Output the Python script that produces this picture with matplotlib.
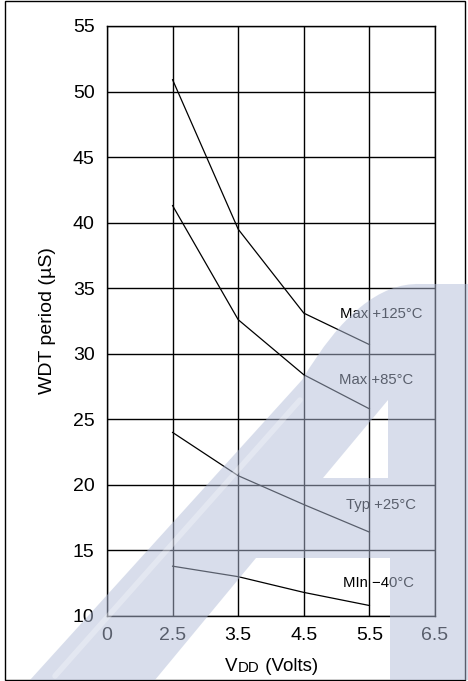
import numpy as np
import matplotlib
matplotlib.use("Agg")
import matplotlib.pyplot as plt
from matplotlib.path import Path
from matplotlib.patches import PathPatch, Rectangle
from matplotlib.transforms import Affine2D
from matplotlib.lines import Line2D

plt.rcParams['font.family'] = ['Liberation Sans', 'DejaVu Sans']

# ---- data ----
x_tick_labels = ["0", "2.5", "3.5", "4.5", "5.5", "6.5"]
vdd = ["2.5", "3.5", "4.5", "5.5"]
max_125 = [50.9, 39.5, 33.1, 30.7]
max_85 = [41.3, 32.6, 28.4, 25.8]
typ_25 = [24.0, 20.7, 18.5, 16.4]
min_m40 = [13.8, 13.0, 11.8, 10.8]
series = [max_125, max_85, typ_25, min_m40]
series_labels = ["Max +125°C", "Max +85°C", "Typ +25°C", "MIn \u221240°C"]
label_pos = [(3.55, 33.0), (3.53, 28.0), (3.64, 18.5), (3.6, 12.5)]
y_ticks = [10, 15, 20, 25, 30, 35, 40, 45, 50, 55]

W, H = 468, 681
fig = plt.figure(figsize=(W / 100, H / 100), dpi=100)
ax = fig.add_axes([107 / W, 1 - 616 / H, (435 - 107) / W, (616 - 26) / H])

xpos = [x_tick_labels.index(v) for v in vdd]
for s in series:
    ax.plot(xpos, s, color='black', lw=0.9, zorder=3)

for (lx, ly), t in zip(label_pos, series_labels):
    ax.text(lx, ly, t, fontsize=10.7, ha='left', va='center', color='black', zorder=4)

ax.set_xlim(0, 5)
ax.set_ylim(10, 55)
ax.set_xticks(range(len(x_tick_labels)))
ax.set_xticklabels(x_tick_labels)
ax.set_yticks(y_ticks)
ax.tick_params(axis='both', length=0, labelsize=14, colors='black')
ax.tick_params(axis='y', pad=9)
ax.tick_params(axis='x', pad=8)
ax.grid(True, color='black', lw=1.0)
ax.set_axisbelow(True)
for sp in ax.spines.values():
    sp.set_color('black')
    sp.set_linewidth(1.0)

ax.set_ylabel("WDT period (µS)", fontsize=14, labelpad=12)

# x label "VDD (Volts)" with small-caps DD
t1 = fig.text(225 / W, 1 - 671 / H, "V", fontsize=13.5, ha='left', va='baseline')
a2 = ax.annotate("DD", xy=(1, 0), xycoords=t1, xytext=(0.5, 0),
                 textcoords='offset points', fontsize=10.8, ha='left', va='bottom')
a3 = ax.annotate(" (Volts)", xy=(1, 0), xycoords=a2, xytext=(0, 0),
                 textcoords='offset points', fontsize=13.5, ha='left', va='bottom')

# pixel transform (y down) for decoration
pix = Affine2D().scale(1 / W, -1 / H).translate(0, 1) + fig.transFigure

# outer border
fig.patches.append(Rectangle((5, 1), 460, 679, transform=pix, fill=False,
                             edgecolor='black', lw=1.0, zorder=2))

# watermark "A"
verts = [(30, 680), (302, 380), (360, 282), (420, 284), (468, 284), (468, 680),
         (390, 680), (390, 558), (256, 558), (155, 680), (30, 680),
         (323, 478), (388, 478), (388, 400), (323, 478)]
codes = [Path.MOVETO, Path.LINETO, Path.CURVE3, Path.CURVE3, Path.LINETO, Path.LINETO,
         Path.LINETO, Path.LINETO, Path.LINETO, Path.LINETO, Path.CLOSEPOLY,
         Path.MOVETO, Path.LINETO, Path.LINETO, Path.CLOSEPOLY]
wm = PathPatch(Path(verts, codes), transform=pix, facecolor='#b2bdd8',
               edgecolor='none', alpha=0.5, zorder=10)
fig.patches.append(wm)
streak = Line2D([55, 300], [676, 400], transform=pix, color='white', lw=4,
                alpha=0.3, zorder=11, solid_capstyle='round')
fig.lines.append(streak)

fig.savefig("out.png", dpi=100)
